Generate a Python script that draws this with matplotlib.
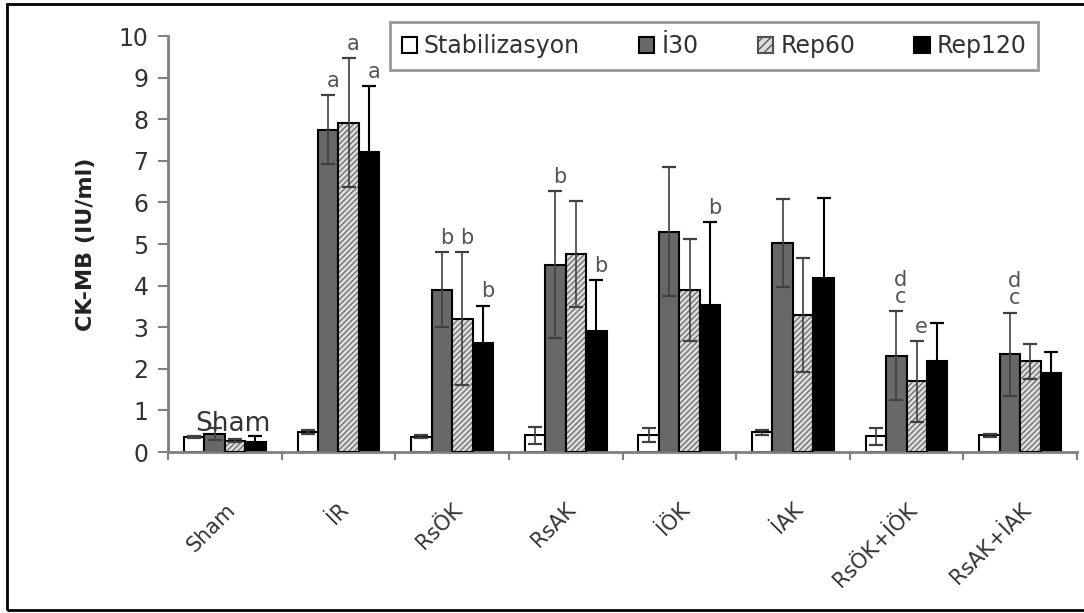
import numpy as np
import matplotlib
matplotlib.use("Agg")
import matplotlib.pyplot as plt
from matplotlib.patches import Patch, Rectangle

groups = ['Sham', 'İR', 'RsÖK', 'RsAK', 'İÖK', 'İAK', 'RsÖK+İÖK', 'RsAK+İAK']
series = ['Stabilizasyon', 'İ30', 'Rep60', 'Rep120']

stab = [0.36, 0.48, 0.37, 0.40, 0.40, 0.47, 0.38, 0.40]
stab_err = [0.03, 0.05, 0.04, 0.20, 0.17, 0.05, 0.20, 0.04]
i30 = [0.43, 7.75, 3.90, 4.50, 5.30, 5.02, 2.31, 2.35]
i30_err = [0.15, 0.82, 0.90, 1.77, 1.56, 1.06, 1.07, 1.00]
rep60 = [0.27, 7.92, 3.20, 4.76, 3.90, 3.30, 1.70, 2.18]
rep60_err = [0.04, 1.55, 1.60, 1.27, 1.22, 1.37, 0.97, 0.42]
rep120 = [0.24, 7.21, 2.62, 2.91, 3.53, 4.18, 2.19, 1.90]
rep120_err = [0.14, 1.58, 0.90, 1.22, 2.00, 1.92, 0.92, 0.50]

# significance letters: (group index, series index, text)
letters = [(1, 1, 'a'), (1, 2, 'a'), (1, 3, 'a'),
           (2, 1, 'b'), (2, 2, 'b'), (2, 3, 'b'),
           (3, 1, 'b'), (3, 3, 'b'), (4, 3, 'b'),
           (6, 1, 'd\nc'), (6, 2, 'e'), (7, 1, 'd\nc')]

values = [stab, i30, rep60, rep120]
errors = [stab_err, i30_err, rep60_err, rep120_err]

plt.rcParams['font.family'] = ['DejaVu Sans']
plt.rcParams['hatch.linewidth'] = 0.9

fig = plt.figure(figsize=(10.84, 6.13), dpi=100)
ax = fig.add_axes([168 / 1084, 1 - 452 / 613, (1077 - 168) / 1084, (452 - 36) / 613])

x = np.arange(len(groups)) + 0.5
w = 0.18
err_kw = dict(ecolor='#404040', elinewidth=1.2, capsize=5, capthick=1.6)

for k in range(4):
    pos = x + (k - 1.5) * w
    if k == 0:
        ax.bar(pos, values[k], w, color='white', edgecolor='black', linewidth=1.5,
               yerr=errors[k], error_kw=err_kw, zorder=2)
    elif k == 1:
        ax.bar(pos, values[k], w, color='#686868', edgecolor='black', linewidth=1.5,
               yerr=errors[k], error_kw=err_kw, zorder=2)
    elif k == 2:
        ax.bar(pos, values[k], w, color='#dcdcdc', edgecolor='#6a6a6a', linewidth=0,
               hatch='//////', zorder=2)
        ax.bar(pos, values[k], w, fill=False, edgecolor='black', linewidth=1.5,
               yerr=errors[k], error_kw=err_kw, zorder=3)
    else:
        ax.bar(pos, values[k], w, color='black', edgecolor='black', linewidth=1.5,
               yerr=errors[k], error_kw=dict(err_kw, ecolor='black', elinewidth=1.5), zorder=2)

for g, s, txt in letters:
    top = values[s][g] + errors[s][g]
    ax.text(x[g] + (s - 1.5) * w + 0.04, top + 0.1, txt, ha='center', va='bottom',
            fontsize=15, color='#555555', linespacing=0.85)

ax.text(x[0] + 0.07, 0.5, 'Sham', ha='center', va='baseline', fontsize=19, color='#333333')

ax.set_xlim(0, len(groups))
ax.set_ylim(0, 10)
ax.set_yticks(range(0, 11))
ax.tick_params(axis='y', labelsize=17, colors='#808080', labelcolor='#333333',
               length=7, width=1.5, pad=7)
ax.set_xticks(x)
ax.set_xticklabels(groups, rotation=45, ha='right', rotation_mode='anchor',
                   fontsize=15, color='#333333')
ax.tick_params(axis='x', which='major', length=0, pad=34)
ax.set_xticks(np.arange(len(groups) + 1), minor=True)
ax.tick_params(axis='x', which='minor', length=6, width=1.5, colors='#808080')

for side in ['top', 'right']:
    ax.spines[side].set_visible(False)
for side in ['left', 'bottom']:
    ax.spines[side].set_color('#808080')
    ax.spines[side].set_linewidth(2)

ax.set_ylabel('CK-MB (IU/ml)', fontsize=16, fontweight='bold', color='#222222', labelpad=16)

handles = [Patch(facecolor='white', edgecolor='black', linewidth=1.5),
           Patch(facecolor='#686868', edgecolor='black', linewidth=1.5),
           Patch(facecolor='#dcdcdc', edgecolor='#505050', hatch='////', linewidth=1.5),
           Patch(facecolor='black', edgecolor='black', linewidth=1.5)]
leg = fig.legend(handles, series, loc='center', bbox_to_anchor=(714 / 1084, 1 - 46 / 613),
                 ncol=4, fontsize=17, frameon=True, fancybox=False, handlelength=0.65,
                 handleheight=0.65, handletextpad=0.3, columnspacing=2.5, borderpad=0.5)
leg.get_frame().set_edgecolor('#808080')
leg.get_frame().set_linewidth(2)
for t in leg.get_texts():
    t.set_color('#333333')

# outer frame of the picture
fig.patches.append(Rectangle((7 / 1084, 3 / 613), 1.1, 1 - 7 / 613, transform=fig.transFigure,
                             fill=False, edgecolor='black', linewidth=2))

fig.savefig('out.png', dpi=100)
